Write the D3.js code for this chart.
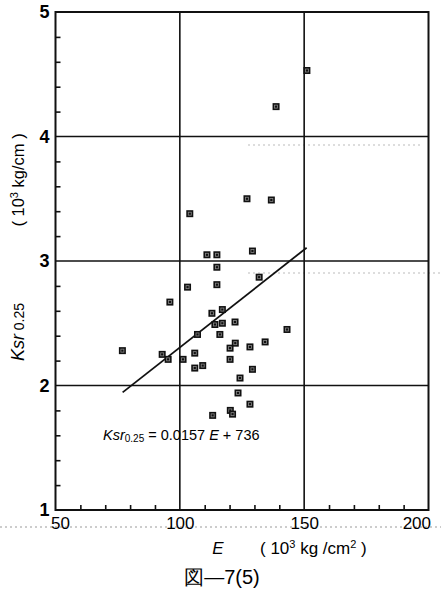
<!DOCTYPE html>
<html>
<head>
<meta charset="utf-8">
<script src="https://cdn.jsdelivr.net/npm/d3@7"></script>
<style>
  html, body { margin: 0; padding: 0; background: #fff; }
  svg { display: block; }
  text { font-family: "Liberation Sans", Arial, "DejaVu Sans", sans-serif; fill: #000; }
</style>
</head>
<body>
<svg id="chart" width="441" height="591"></svg>
<script>
// ---- data ----
const E_values   = [151.1, 138.7, 127.0, 136.8, 104.0, 110.9, 114.9, 129.2, 114.9, 131.9,
                    103.1, 114.9,  96.0, 112.9, 117.1, 114.1, 117.1, 122.2, 107.1, 116.1,
                    143.1,  76.9,  92.9,  95.3, 101.3, 106.0, 106.0, 109.2, 120.2, 122.3,
                    128.2, 134.3, 120.2, 129.2, 124.2, 123.4, 128.2, 120.3, 121.2, 113.2];
const Ksr_values = [4.53, 4.24, 3.50, 3.49, 3.38, 3.05, 3.05, 3.08, 2.95, 2.87,
                    2.79, 2.81, 2.67, 2.58, 2.61, 2.49, 2.50, 2.51, 2.41, 2.41,
                    2.45, 2.28, 2.25, 2.21, 2.21, 2.26, 2.14, 2.16, 2.30, 2.34,
                    2.31, 2.35, 2.21, 2.13, 2.06, 1.94, 1.85, 1.80, 1.77, 1.76];
const regSlope = 0.0157;
const regIntercept = 0.736;     // in 10^3 kg/cm  (label: 736 kg/cm)
const regRange = [77, 151];
const xMajorTicks = [50, 100, 150, 200];
const xMinorTicks = [60, 70, 80, 90, 110, 120, 130, 140, 160, 170, 180, 190];
const yMajorTicks = [1, 2, 3, 4, 5];
const yMinorTicks = [1.2, 1.4, 1.6, 1.8, 2.2, 2.4, 2.6, 2.8, 3.2, 3.4, 3.6, 3.8, 4.2, 4.4, 4.6, 4.8];
const xGrid = [100, 150];
const yGrid = [2, 3, 4];

// ---- layout ----
const svg = d3.select("#chart");
const L = 55.5, R = 428.5, T = 12, B = 510;
const x = d3.scaleLinear().domain([50, 200]).range([L, R]);
const y = d3.scaleLinear().domain([1, 5]).range([B, T]);

// faint scan-noise dotted lines seen in the reference
const noise = svg.append("g").attr("stroke", "#999").attr("stroke-width", 1).attr("stroke-dasharray", "2,3");
noise.append("line").attr("x1", 0).attr("x2", 441).attr("y1", 527).attr("y2", 527);
noise.append("line").attr("x1", 248).attr("x2", 420).attr("y1", 145).attr("y2", 145).attr("stroke", "#bbb");
noise.append("line").attr("x1", 248).attr("x2", 441).attr("y1", 273).attr("y2", 273).attr("stroke", "#bbb");

// grid lines
const grid = svg.append("g").attr("stroke", "#111").attr("stroke-width", 1.6);
grid.selectAll(".gx").data(xGrid).join("line")
  .attr("x1", d => x(d)).attr("x2", d => x(d)).attr("y1", T).attr("y2", B);
grid.selectAll(".gy").data(yGrid).join("line")
  .attr("x1", L).attr("x2", R).attr("y1", d => y(d)).attr("y2", d => y(d));

// minor ticks (inward)
svg.append("g").attr("transform", `translate(${L},0)`)
  .call(d3.axisLeft(y).tickValues(yMinorTicks).tickSize(-5).tickFormat(""))
  .call(g => g.select(".domain").remove())
  .call(g => g.selectAll("line").attr("stroke", "#111").attr("stroke-width", 1.6));
svg.append("g").attr("transform", `translate(0,${B})`)
  .call(d3.axisBottom(x).tickValues(xMinorTicks).tickSize(-5).tickFormat(""))
  .call(g => g.select(".domain").remove())
  .call(g => g.selectAll("line").attr("stroke", "#111").attr("stroke-width", 1.6));

// major tick labels
svg.append("g").attr("transform", `translate(${L},0)`)
  .call(d3.axisLeft(y).tickValues(yMajorTicks).tickSize(0).tickPadding(6).tickFormat(d3.format("d")))
  .call(g => g.select(".domain").remove())
  .call(g => g.selectAll("text").attr("font-size", 18).attr("font-weight", "bold")
                .attr("font-family", "'Liberation Sans', Arial, sans-serif").attr("fill", "#000"));
svg.append("g").attr("transform", `translate(0,${B})`)
  .call(d3.axisBottom(x).tickValues(xMajorTicks).tickSize(0).tickPadding(7).tickFormat(d3.format("d")))
  .call(g => g.select(".domain").remove())
  .call(g => g.selectAll("text").attr("font-size", 17)
                .attr("font-family", "'Liberation Sans', Arial, sans-serif").attr("fill", "#000")
                .attr("text-anchor", (d, i, n) => i === 0 ? "start" : (i === n.length - 1 ? "end" : "middle"))
                .attr("dx", (d, i, n) => i === 0 ? -5 : (i === n.length - 1 ? 2 : 0)));

// frame
svg.append("rect").attr("x", L).attr("y", T).attr("width", R - L).attr("height", B - T)
  .attr("fill", "none").attr("stroke", "#111").attr("stroke-width", 2);

// regression line
const reg = d3.line().x(d => x(d)).y(d => y(regSlope * d + regIntercept));
svg.append("path").datum(regRange).attr("d", reg)
  .attr("fill", "none").attr("stroke", "#111").attr("stroke-width", 1.8);

// points
const pts = E_values.map((e, i) => ({ e, k: Ksr_values[i] }));
const pg = svg.append("g");
const m = pg.selectAll("g.pt").data(pts).join("g")
  .attr("transform", d => `translate(${x(d.e)},${y(d.k)})`);
m.append("rect").attr("x", -3.5).attr("y", -3.5).attr("width", 7).attr("height", 7)
  .attr("fill", "#111");
m.append("rect").attr("x", -1.5).attr("y", -1.5).attr("width", 3).attr("height", 3)
  .attr("fill", "none").attr("stroke", "#888").attr("stroke-width", 0.8);

// equation label
const eq = svg.append("text").attr("x", 103).attr("y", 440).attr("font-size", 14.5);
eq.append("tspan").attr("font-style", "italic").text("Ksr");
eq.append("tspan").attr("font-size", 10).attr("dy", 2).text("0.25");
eq.append("tspan").attr("dy", -2).text(" = 0.0157 ");
eq.append("tspan").attr("font-style", "italic").text("E");
eq.append("tspan").text(" + 736");

// y axis labels (rotated)
const yl1 = svg.append("text").attr("transform", "translate(24,332) rotate(-90)")
  .attr("text-anchor", "middle").attr("font-size", 18);
yl1.append("tspan").attr("font-style", "italic").text("Ksr");
yl1.append("tspan").attr("font-size", 14).text(" 0.25");

const yl2 = svg.append("text").attr("transform", "translate(24,180) rotate(-90)")
  .attr("text-anchor", "middle").attr("font-size", 16.5);
yl2.append("tspan").text("( 10");
yl2.append("tspan").attr("font-size", 11).attr("dy", -6).text("3");
yl2.append("tspan").attr("dy", 6).text(" kg/cm )");

// x axis label
svg.append("text").attr("x", 218).attr("y", 554).attr("text-anchor", "middle")
  .attr("font-size", 17).attr("font-style", "italic").text("E");
const xl = svg.append("text").attr("x", 260).attr("y", 554).attr("font-size", 17);
xl.append("tspan").text("( 10");
xl.append("tspan").attr("font-size", 11).attr("dy", -6).text("3");
xl.append("tspan").attr("dy", 6).text(" kg /cm");
xl.append("tspan").attr("font-size", 11).attr("dy", -6).text("2");
xl.append("tspan").attr("dy", 6).text(" )");

// figure caption
svg.append("text").attr("x", 222).attr("y", 584).attr("text-anchor", "middle")
  .attr("font-size", 20).attr("font-family", "'Noto Sans CJK JP', 'Liberation Sans', sans-serif")
  .text("図—7(5)");
</script>
</body>
</html>
